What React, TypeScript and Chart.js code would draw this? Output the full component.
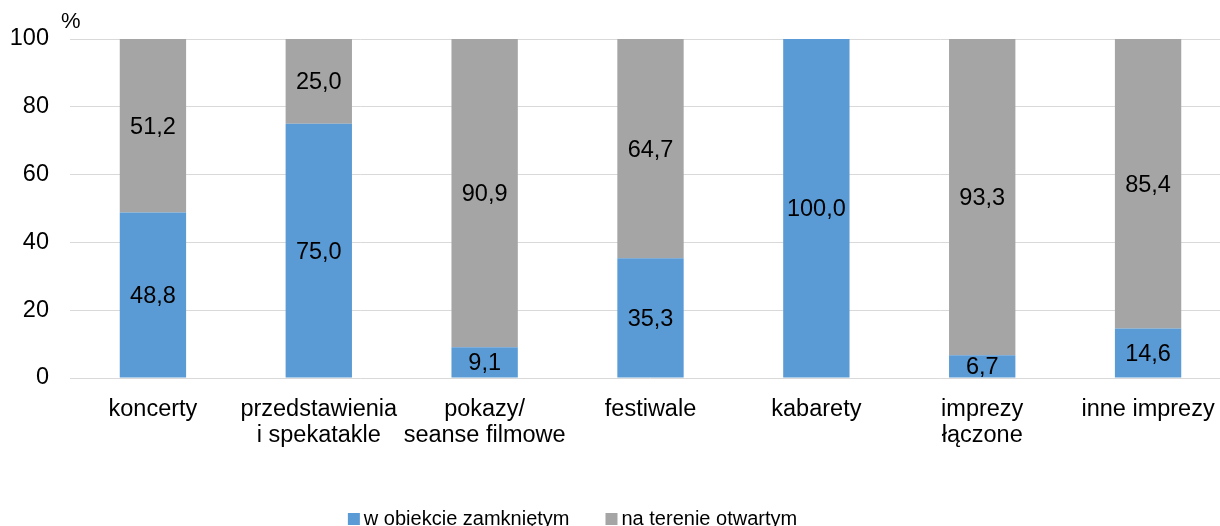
import React, { useEffect, useRef } from "react";
import { Chart, registerables } from "chart.js";

Chart.register(...registerables);

const categories: string[][] = [
  ["koncerty"],
  ["przedstawienia", "i spekatakle"],
  ["pokazy/", "seanse filmowe"],
  ["festiwale"],
  ["kabarety"],
  ["imprezy", "łączone"],
  ["inne imprezy"],
];
const closedValues = [48.8, 75.0, 9.1, 35.3, 100.0, 6.7, 14.6];
const openValues = [51.2, 25.0, 90.9, 64.7, 0, 93.3, 85.4];
const seriesNames = ["w obiekcie zamkniętym", "na terenie otwartym"];
const seriesColors = ["#5B9BD5", "#A5A5A5"];
const yMin = 0;
const yMax = 100;
const yStep = 20;
const unitLabel = "%";

const FONT = "'Liberation Sans', Arial, sans-serif";

const valueLabels = {
  id: "valueLabels",
  afterDatasetsDraw(chart: any) {
    const ctx = chart.ctx;
    ctx.save();
    ctx.font = `23.5px ${FONT}`;
    ctx.fillStyle = "#000";
    ctx.textAlign = "center";
    ctx.textBaseline = "middle";
    chart.data.datasets.forEach((ds: any, di: number) => {
      const meta = chart.getDatasetMeta(di);
      meta.data.forEach((bar: any, i: number) => {
        const v = ds.data[i];
        if (!v) return;
        const p = bar.getProps(["x", "y", "base"], true);
        ctx.fillText(v.toFixed(1).replace(".", ","), p.x, (p.y + p.base) / 2 + 1.5);
      });
    });
    ctx.restore();
  },
};

const extras = {
  id: "extras",
  afterDraw(chart: any) {
    const ctx = chart.ctx;
    ctx.save();
    // unit label
    ctx.font = `22px ${FONT}`;
    ctx.fillStyle = "#000";
    ctx.textAlign = "left";
    ctx.textBaseline = "middle";
    ctx.fillText(unitLabel, chart.chartArea.left - 9, 22);
    // legend
    ctx.font = `20px ${FONT}`;
    const box = 12;
    const gap = 4;
    const itemGap = 36;
    const widths = seriesNames.map((n) => ctx.measureText(n).width);
    let total = 0;
    widths.forEach((w, i) => {
      total += box + gap + w + (i < widths.length - 1 ? itemGap : 0);
    });
    let x = 572.5 - total / 2;
    const cy = 519;
    seriesNames.forEach((n, i) => {
      ctx.fillStyle = seriesColors[i];
      ctx.fillRect(x, cy - box / 2, box, box);
      ctx.fillStyle = "#000";
      ctx.fillText(n, x + box + gap, cy);
      x += box + gap + widths[i] + itemGap;
    });
    ctx.restore();
  },
};

export default function App() {
  const ref = useRef<HTMLCanvasElement | null>(null);
  useEffect(() => {
    if (!ref.current) return;
    const chart = new Chart(ref.current, {
      type: "bar",
      data: {
        labels: categories,
        datasets: [
          {
            label: seriesNames[0],
            data: closedValues,
            backgroundColor: seriesColors[0],
            borderWidth: 0,
          },
          {
            label: seriesNames[1],
            data: openValues,
            backgroundColor: seriesColors[1],
            borderWidth: 0,
          },
        ],
      },
      options: {
        animation: false,
        responsive: false,
        devicePixelRatio: 1,
        layout: { padding: { top: 39, right: 9, bottom: 0, left: 0 } },
        datasets: { bar: { categoryPercentage: 1, barPercentage: 0.4 } },
        plugins: { legend: { display: false }, tooltip: { enabled: false } },
        scales: {
          x: {
            stacked: true,
            grid: { display: false, drawTicks: false },
            border: { display: false },
            ticks: {
              padding: 18,
              color: "#000",
              maxRotation: 0,
              autoSkip: false,
              font: { family: FONT, size: 23.5, lineHeight: 1.12 },
            },
            afterFit: (s: any) => {
              s.height = 526 - 378 - 0;
            },
          },
          y: {
            stacked: true,
            min: yMin,
            max: yMax,
            grid: { color: "#D9D9D9", lineWidth: 1, drawTicks: false },
            border: { display: false },
            ticks: {
              stepSize: yStep,
              padding: 21,
              color: "#000",
              font: { family: FONT, size: 23.5 },
            },
            afterFit: (s: any) => {
              s.width = 70;
            },
          },
        },
      },
      plugins: [valueLabels, extras],
    });
    return () => chart.destroy();
  }, []);
  return (
    <div
      style={{
        position: "absolute",
        left: 0,
        top: 0,
        width: 1220,
        height: 526,
        overflow: "hidden",
        background: "#fff",
      }}
    >
      <canvas ref={ref} width={1240} height={526} style={{ display: "block" }} />
    </div>
  );
}
